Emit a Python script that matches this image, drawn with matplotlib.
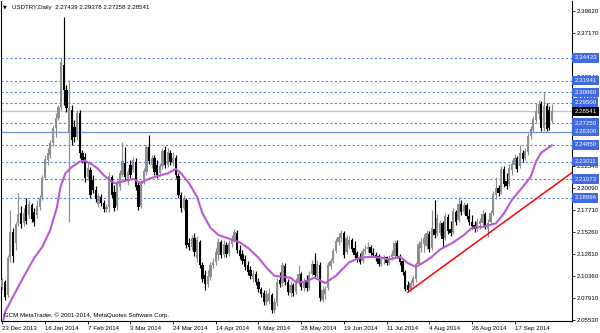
import numpy as np
import matplotlib.pyplot as plt
from matplotlib.transforms import blended_transform_factory

# USDTRY daily bars
opens = [2.092, 2.097, 2.083, 2.125, 2.152, 2.140, 2.162, 2.173, 2.162, 2.182, 2.171, 2.182, 2.174, 2.171, 2.180,
         2.191, 2.212, 2.232, 2.237, 2.251, 2.267, 2.278, 2.290, 2.337, 2.309, 2.262, 2.287, 2.268, 2.257, 2.284,
         2.240, 2.235, 2.213, 2.221, 2.210, 2.199, 2.183, 2.191, 2.184, 2.178, 2.180, 2.213, 2.196,
         2.181, 2.202, 2.215, 2.228, 2.210, 2.226, 2.221, 2.230, 2.204, 2.181, 2.208, 2.219, 2.246, 2.226, 2.234,
         2.226, 2.217, 2.225, 2.243, 2.226, 2.240, 2.228, 2.234, 2.214, 2.193, 2.179, 2.188, 2.140, 2.136, 2.146,
         2.124, 2.141, 2.116, 2.105, 2.095, 2.103, 2.116, 2.119, 2.127, 2.141, 2.127,
         2.138, 2.129, 2.139, 2.144, 2.151, 2.133, 2.128, 2.123, 2.116, 2.110, 2.101, 2.106, 2.097, 2.089, 2.085,
         2.075, 2.076, 2.083, 2.066, 2.074, 2.099, 2.096, 2.115, 2.097, 2.085, 2.094, 2.086, 2.097, 2.106, 2.091,
         2.099, 2.091, 2.106, 2.117, 2.104, 2.116, 2.077, 2.084, 2.091, 2.115, 2.120,
         2.131, 2.141, 2.146, 2.151, 2.130, 2.138, 2.144, 2.135, 2.129, 2.124, 2.120, 2.131, 2.134, 2.136, 2.129,
         2.127, 2.126, 2.117, 2.123, 2.125, 2.118, 2.125, 2.126, 2.140, 2.126, 2.120, 2.108, 2.094, 2.089, 2.096,
         2.101, 2.117, 2.135, 2.139, 2.137, 2.150, 2.135, 2.156, 2.150, 2.151, 2.162,
         2.146, 2.169, 2.156, 2.152, 2.174, 2.166, 2.183, 2.174, 2.182, 2.170, 2.163, 2.160, 2.156, 2.161, 2.162,
         2.172, 2.156, 2.163, 2.173, 2.193, 2.201, 2.196, 2.222, 2.209, 2.205, 2.221, 2.226, 2.234, 2.225, 2.240,
         2.234, 2.241, 2.258, 2.265, 2.276, 2.283, 2.294, 2.267, 2.291, 2.287, 2.27439]
highs = [2.102, 2.099, 2.127, 2.177, 2.157, 2.163, 2.195, 2.181, 2.179, 2.190, 2.188, 2.184, 2.179, 2.188, 2.193,
         2.215, 2.237, 2.245, 2.254, 2.270, 2.284, 2.293, 2.344, 2.390, 2.315, 2.320, 2.293, 2.276, 2.287, 2.287,
         2.243, 2.240, 2.228, 2.224, 2.215, 2.203, 2.195, 2.194, 2.188, 2.183, 2.219, 2.215, 2.204,
         2.212, 2.221, 2.252, 2.246, 2.223, 2.232, 2.235, 2.234, 2.208, 2.210, 2.223, 2.248, 2.259, 2.237, 2.237,
         2.232, 2.228, 2.245, 2.247, 2.245, 2.243, 2.241, 2.237, 2.217, 2.196, 2.193, 2.190, 2.146, 2.149, 2.151,
         2.148, 2.144, 2.119, 2.110, 2.110, 2.119, 2.124, 2.135, 2.146, 2.144, 2.144,
         2.141, 2.144, 2.149, 2.156, 2.155, 2.138, 2.133, 2.127, 2.120, 2.115, 2.110, 2.109, 2.102, 2.092, 2.088,
         2.088, 2.091, 2.085, 2.080, 2.102, 2.108, 2.119, 2.118, 2.101, 2.098, 2.096, 2.102, 2.116, 2.108, 2.102,
         2.105, 2.109, 2.122, 2.129, 2.122, 2.119, 2.093, 2.093, 2.119, 2.124, 2.135,
         2.146, 2.151, 2.155, 2.153, 2.149, 2.148, 2.146, 2.142, 2.131, 2.129, 2.135, 2.138, 2.141, 2.138, 2.135,
         2.130, 2.128, 2.126, 2.127, 2.126, 2.127, 2.133, 2.144, 2.144, 2.128, 2.124, 2.110, 2.098, 2.099, 2.105,
         2.119, 2.142, 2.146, 2.150, 2.155, 2.153, 2.177, 2.188, 2.172, 2.166, 2.165,
         2.173, 2.172, 2.165, 2.179, 2.177, 2.191, 2.188, 2.185, 2.184, 2.178, 2.171, 2.165, 2.168, 2.168, 2.177,
         2.174, 2.167, 2.177, 2.198, 2.213, 2.204, 2.225, 2.225, 2.217, 2.227, 2.232, 2.238, 2.236, 2.248, 2.243,
         2.245, 2.262, 2.269, 2.280, 2.295, 2.298, 2.297, 2.307, 2.295, 2.291, 2.29378]
lows = [2.088, 2.077, 2.081, 2.119, 2.119, 2.133, 2.159, 2.157, 2.159, 2.161, 2.168, 2.163, 2.159, 2.168, 2.177,
        2.188, 2.210, 2.226, 2.234, 2.247, 2.257, 2.276, 2.287, 2.293, 2.285, 2.163, 2.248, 2.252, 2.254, 2.234,
        2.228, 2.208, 2.210, 2.190, 2.195, 2.185, 2.180, 2.181, 2.174, 2.174, 2.174, 2.190, 2.176,
        2.177, 2.199, 2.213, 2.210, 2.204, 2.212, 2.219, 2.199, 2.177, 2.179, 2.205, 2.215, 2.227, 2.223, 2.215,
        2.212, 2.214, 2.222, 2.223, 2.224, 2.226, 2.225, 2.212, 2.190, 2.174, 2.177, 2.135, 2.133, 2.133, 2.126,
        2.119, 2.113, 2.097, 2.088, 2.092, 2.099, 2.113, 2.116, 2.122, 2.124, 2.125,
        2.125, 2.126, 2.136, 2.141, 2.129, 2.123, 2.117, 2.110, 2.105, 2.101, 2.097, 2.094, 2.086, 2.081, 2.072,
        2.072, 2.073, 2.063, 2.063, 2.071, 2.092, 2.093, 2.094, 2.083, 2.081, 2.082, 2.084, 2.094, 2.088, 2.087,
        2.087, 2.088, 2.104, 2.102, 2.101, 2.076, 2.075, 2.078, 2.088, 2.112, 2.118,
        2.129, 2.138, 2.141, 2.124, 2.128, 2.135, 2.130, 2.124, 2.119, 2.117, 2.118, 2.128, 2.130, 2.127, 2.125,
        2.120, 2.115, 2.115, 2.117, 2.116, 2.116, 2.122, 2.124, 2.124, 2.116, 2.105, 2.087, 2.086, 2.087, 2.093,
        2.097, 2.116, 2.130, 2.130, 2.134, 2.130, 2.133, 2.146, 2.148, 2.149, 2.136,
        2.144, 2.150, 2.148, 2.150, 2.160, 2.163, 2.171, 2.172, 2.167, 2.160, 2.156, 2.152, 2.153, 2.156, 2.158,
        2.156, 2.147, 2.160, 2.171, 2.189, 2.192, 2.194, 2.202, 2.200, 2.203, 2.215, 2.223, 2.219, 2.223, 2.230,
        2.232, 2.237, 2.255, 2.263, 2.274, 2.277, 2.264, 2.264, 2.264, 2.265, 2.27258]
closes = [2.099, 2.081, 2.124, 2.152, 2.126, 2.161, 2.172, 2.161, 2.173, 2.165, 2.183, 2.167, 2.163, 2.181, 2.190,
          2.212, 2.233, 2.240, 2.251, 2.267, 2.278, 2.290, 2.340, 2.309, 2.289, 2.289, 2.254, 2.257, 2.284, 2.240,
          2.232, 2.212, 2.223, 2.193, 2.199, 2.189, 2.192, 2.184, 2.178, 2.180, 2.214, 2.193, 2.179,
          2.206, 2.217, 2.231, 2.213, 2.219, 2.215, 2.232, 2.202, 2.180, 2.208, 2.220, 2.246, 2.231, 2.234, 2.219,
          2.215, 2.225, 2.242, 2.226, 2.241, 2.230, 2.234, 2.215, 2.193, 2.179, 2.190, 2.138, 2.136, 2.146, 2.130,
          2.144, 2.116, 2.101, 2.095, 2.104, 2.116, 2.119, 2.130, 2.141, 2.127, 2.139,
          2.128, 2.140, 2.145, 2.152, 2.133, 2.126, 2.120, 2.114, 2.108, 2.104, 2.106, 2.097, 2.089, 2.084, 2.075,
          2.084, 2.085, 2.066, 2.075, 2.097, 2.095, 2.116, 2.097, 2.086, 2.094, 2.085, 2.098, 2.106, 2.092, 2.098,
          2.091, 2.105, 2.117, 2.105, 2.117, 2.080, 2.088, 2.089, 2.116, 2.120, 2.131,
          2.142, 2.147, 2.151, 2.127, 2.146, 2.144, 2.134, 2.127, 2.123, 2.119, 2.131, 2.134, 2.136, 2.129, 2.127,
          2.124, 2.117, 2.123, 2.125, 2.118, 2.124, 2.128, 2.140, 2.126, 2.119, 2.108, 2.089, 2.088, 2.096, 2.102,
          2.117, 2.139, 2.141, 2.146, 2.151, 2.134, 2.157, 2.149, 2.168, 2.162, 2.145,
          2.170, 2.153, 2.151, 2.176, 2.163, 2.183, 2.174, 2.182, 2.170, 2.163, 2.159, 2.156, 2.163, 2.165, 2.172,
          2.159, 2.162, 2.173, 2.194, 2.201, 2.195, 2.222, 2.205, 2.203, 2.223, 2.227, 2.234, 2.222, 2.240, 2.233,
          2.242, 2.258, 2.266, 2.277, 2.286, 2.294, 2.267, 2.291, 2.266, 2.267, 2.28541]

# moving average (purple), sampled along the drawn line: bar position, price
ma_pos = [0, 1, 4, 8, 12, 15, 18, 20.5, 21.7, 23.6, 26, 29, 31, 33, 35.5, 38, 40, 42.3, 45, 49, 52, 54, 58, 62,
          65, 67, 70, 73, 75, 78, 81, 84, 89, 92, 96, 99, 102, 105, 108, 110, 113, 117, 121, 125, 127, 130, 134,
          138, 142, 145, 149, 152, 155, 158, 161, 164, 169, 173, 176, 180, 185, 188, 191, 195, 198, 200, 202,
          205, 206]
ma_val = [2.050, 2.064, 2.081, 2.103, 2.124, 2.136, 2.155, 2.180, 2.201, 2.217, 2.224, 2.230, 2.231, 2.228,
          2.223, 2.215, 2.210, 2.206, 2.208, 2.211, 2.206, 2.210, 2.214, 2.217, 2.222, 2.217, 2.206, 2.191,
          2.173, 2.157, 2.149, 2.146, 2.141, 2.135, 2.124, 2.113, 2.104, 2.103, 2.102, 2.097, 2.097, 2.102,
          2.096, 2.104, 2.110, 2.119, 2.124, 2.125, 2.124, 2.122, 2.125, 2.118, 2.114, 2.119, 2.125, 2.133,
          2.141, 2.149, 2.157, 2.158, 2.162, 2.173, 2.188, 2.202, 2.213, 2.230, 2.240, 2.246, 2.248]

# red trend line drawn from the July low
trend_pos = [152, 214]
trend_val = [2.086, 2.219]

dashed_levels = [2.34433, 2.31941, 2.30660, 2.29500, 2.27250, 2.24850, 2.23011, 2.21073, 2.18996]
solid_level = 2.26300
last_price = 2.28541

price_ticks = [2.39620, 2.37170, 2.34720, 2.32340, 2.29890, 2.27440, 2.24990, 2.22540,
               2.20090, 2.17710, 2.15260, 2.12810, 2.10360, 2.07910, 2.05530]
date_labels = ["23 Dec 2013", "16 Jan 2014", "7 Feb 2014", "3 Mar 2014", "24 Mar 2014", "14 Apr 2014",
               "6 May 2014", "28 May 2014", "19 Jun 2014", "11 Jul 2014", "4 Aug 2014", "26 Aug 2014",
               "17 Sep 2014"]

plt.rcParams['font.family'] = ['Liberation Sans', 'DejaVu Sans']
fs = 4.4

fig = plt.figure(figsize=(6, 3.33), dpi=100)
ax = fig.add_axes([1 / 600, 12 / 333, 571 / 600, 320 / 333])
ax.set_xlim(-0.5, 213.5)
ax.set_ylim(2.0542, 2.4072)

# levels
for lv in dashed_levels:
    ax.axhline(lv, color='#5a7fe0', lw=0.8, linestyle=(0, (2, 2)), zorder=1)
ax.axhline(solid_level, color='#6f8fdc', lw=0.9, zorder=1)
ax.axhline(last_price, color='#c4c4c4', lw=0.9, zorder=1)

# candles
o = np.array(opens); h = np.array(highs); l = np.array(lows); c = np.array(closes)
x = np.arange(len(c))
cols = np.where(c >= o, '#8e8e8e', '#000000')
ax.vlines(x, l, h, colors=cols, lw=0.85, zorder=3)
body = np.maximum(np.abs(c - o), 0.0008)
ax.bar(x, body, bottom=np.minimum(o, c), width=0.85, color=cols, lw=0, zorder=3)

ax.plot(ma_pos, ma_val, color='#b85ad8', lw=1.5, zorder=4, solid_capstyle='round')
ax.plot(trend_pos, trend_val, color='#ff0000', lw=1.1, zorder=4)

# axes styling
for s in ['left', 'bottom', 'right']:
    ax.spines[s].set_color('black')
    ax.spines[s].set_linewidth(0.8)
ax.spines['top'].set_visible(False)

ax.yaxis.tick_right()
ax.set_yticks(price_ticks, [f"{v:.5f}" for v in price_ticks])
ax.tick_params(axis='y', direction='out', length=2.5, width=0.6, pad=1, labelsize=fs)
date_pos = list(range(0, 16 * len(date_labels), 16))
ax.set_xticks(date_pos, date_labels, ha='left')
ax.tick_params(axis='x', direction='out', length=2.5, width=0.6, pad=1, labelsize=fs)

# price labels on the scale
tr = blended_transform_factory(ax.transAxes, ax.transData)
for lv in dashed_levels + [solid_level]:
    ax.text(1.004, lv, f"{lv:.5f}", transform=tr, ha='left', va='center', fontsize=fs, color='white',
            bbox=dict(boxstyle='square,pad=0.35', fc='#4169e1', ec='none'), clip_on=False, zorder=6)
ax.text(1.004, last_price, f"{last_price:.5f}", transform=tr, ha='left', va='center', fontsize=fs,
        color='white', bbox=dict(boxstyle='square,pad=0.35', fc='black', ec='none'), clip_on=False, zorder=7)

fig.text(3 / 600, 1 - 7 / 333, "▼", fontsize=3.5, family='DejaVu Sans', va='center')
fig.text(12 / 600, 1 - 7 / 333, "USDTRY,Daily  2.27439 2.29378 2.27258 2.28541", fontsize=fs, va='center')
fig.text(4 / 600, 1 - 315 / 333, "GCM MetaTrader, © 2001-2014, MetaQuotes Software Corp.", fontsize=fs,
         va='center')

fig.savefig('out.png', dpi=100)
